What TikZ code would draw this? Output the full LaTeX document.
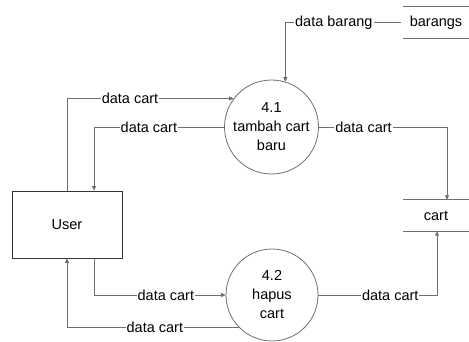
\documentclass[tikz,border=0pt]{standalone}
\usepackage{fontspec}
\setmainfont{Liberation Sans}
\usetikzlibrary{arrows.meta}
\definecolor{ln}{RGB}{110,110,110}
\begin{document}
\begin{tikzpicture}[x=1pt,y=-1pt,
  every node/.style={font=\fontsize{14.5}{19}\selectfont},
  proc/.style={circle,draw=ln,line width=0.8pt,align=center,inner sep=0pt},
  ent/.style={rectangle,draw=black!80,line width=0.8pt,minimum width=110pt,minimum height=67pt,inner sep=0pt},
  store/.style={rectangle,minimum width=66pt,minimum height=31pt,inner sep=0pt},
  flow/.style={draw=ln,line width=0.8pt,-{Triangle[length=4.5pt,width=4pt]},rounded corners=0pt},
  lbl/.style={fill=white,inner sep=1pt}]
\useasboundingbox (0,0) rectangle (469,341);
\node[proc,minimum size=94pt] (p1) at (271.5,127) {4.1\\tambah cart\\baru};
\node[proc,minimum size=92pt] (p2) at (272,295) {4.2\\hapus\\cart};
\node[ent] (user) at (67,224.5) {User};
\node[store] (barangs) at (436,22.5) {barangs};
\node[store] (cart) at (436,215.5) {cart};
\draw[draw=ln,line width=0.8pt] (barangs.north west) -- (barangs.north east);
\draw[draw=ln,line width=0.8pt] (barangs.south west) -- (barangs.south east);
\draw[draw=ln,line width=0.8pt] (cart.north west) -- (cart.north east);
\draw[draw=ln,line width=0.8pt] (cart.south west) -- (cart.south east);
% flows
\draw[flow] ([xshift=-2pt]barangs.west) -| node[lbl,pos=0.29]{data barang} (p1.73);
\draw[flow] (user.north) |- node[lbl,pos=0.689]{data cart} (p1.143.4);
\draw[flow] (p1.west) -| node[lbl,pos=0.289]{data cart} ([xshift=27pt]user.north);
\draw[flow] (p1.east) -| node[lbl,pos=0.174]{data cart} ([xshift=11pt]cart.north);
\draw[flow] ([xshift=27pt]user.south) |- node[lbl,pos=0.773]{data cart} (p2.west);
\draw[flow] (p2.224.1) -| node[lbl,pos=0.244]{data cart} (user.south);
\draw[flow] (p2.east) -| node[lbl,pos=0.303]{data cart} ([xshift=1pt]cart.south);
\end{tikzpicture}
\end{document}
